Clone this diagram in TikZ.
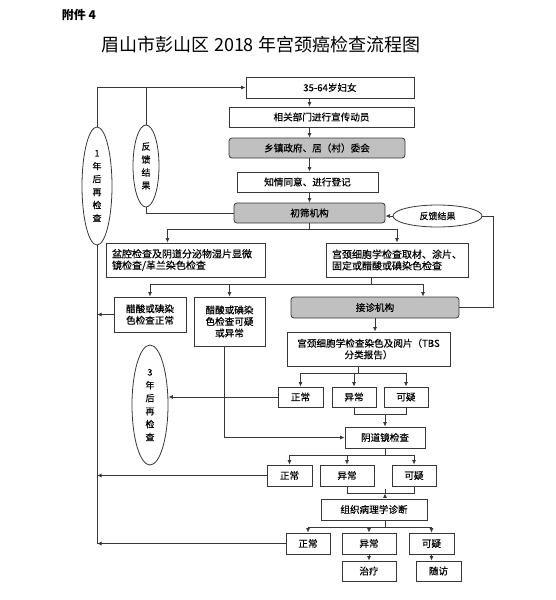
\documentclass[tikz,border=0pt]{standalone}
\usepackage{fontspec}
\setmainfont{Noto Sans CJK SC}
\newfontfamily\boxfont[FakeBold=0.4]{Noto Sans CJK SC}
\usetikzlibrary{arrows.meta,shapes.geometric}
\definecolor{boxgray}{RGB}{192,192,192}
\definecolor{linegray}{RGB}{55,55,55}
\tikzset{
  box/.style={draw=linegray, line width=0.8pt, rectangle, inner sep=1pt, align=center,
    font=\boxfont\fontsize{9.6}{11.5}\selectfont},
  grbox/.style={box, fill=boxgray, rounded corners=3pt},
  leftbox/.style={box, align=left, inner xsep=6pt, font=\boxfont\fontsize{10}{11.5}\selectfont},
  oval/.style={draw=linegray, line width=0.8pt, ellipse, inner sep=0pt, align=center,
    font=\boxfont\fontsize{9}{13}\selectfont},
  line/.style={draw=linegray, line width=0.8pt},
  arr/.style={line, -{Latex[length=4.5pt,width=4pt]}},
}
\begin{document}
\begin{tikzpicture}[x=1pt,y=-1pt]
  \useasboundingbox (0,0) rectangle (555,600);
  % Headings
  \node[font=\fontsize{12}{14}\selectfont\bfseries] (annex) at (79,15) {附件 4};
  \node[font=\fontsize{18}{20}\selectfont] (title) at (261,45) {眉山市彭山区 2018 年宫颈癌检查流程图};
  % Main chain
  \node[box, minimum width=168pt, minimum height=21pt] (women) at (330,87.5) {35-64岁妇女};
  \node[box, minimum width=185pt, minimum height=20pt] (publicity) at (321.5,117) {相关部门进行宣传动员};
  \node[grbox, minimum width=176pt, minimum height=20pt] (township) at (317,148) {乡镇政府、居（村）委会};
  \node[box, minimum width=141pt, minimum height=20pt] (consent) at (307.5,182) {知情同意、进行登记};
  \node[grbox, minimum width=151pt, minimum height=20pt] (screen) at (309.5,213) {初筛机构};
  % Feedback ovals
  \node[oval, minimum width=30pt, minimum height=118pt] (once) at (97,186) {1\\年\\后\\再\\检\\查};
  \node[oval, minimum width=26pt, minimum height=82pt] (feedL) at (146,166) {反\\馈\\结\\果};
  \node[oval, minimum width=89pt, minimum height=22pt] (feedR) at (437.5,216) {反馈结果};
  % Screening tests
  \node[leftbox, text width=147pt, minimum height=34pt] (pelvic) at (185.5,260)
    {盆腔检查及阴道分泌物湿片显微\\镜检查/革兰染色检查};
  \node[leftbox, text width=130pt, minimum height=34pt] (cyto) at (397,260)
    {宫颈细胞学检查取材、涂片、\\固定或醋酸或碘染色检查};
  \node[box, minimum width=72pt, minimum height=35pt] (acetN) at (150,314.5) {醋酸或碘染\\色检查正常};
  \node[box, minimum width=71pt, minimum height=49pt] (acetA) at (229.5,321.5) {醋酸或碘染\\色检查可疑\\或异常};
  \node[grbox, minimum width=168pt, minimum height=21pt] (clinic) at (375,307.5) {接诊机构};
  \node[box, minimum width=163pt, minimum height=34pt] (tbs) at (368.5,349) {宫颈细胞学检查染色及阅片（TBS\\分类报告）};
  % Cytology results
  \node[box, minimum width=45pt, minimum height=20pt] (norm1) at (300.5,397) {正常};
  \node[box, minimum width=44pt, minimum height=20pt] (abn1) at (354,397) {异常};
  \node[box, minimum width=44pt, minimum height=20pt] (susp1) at (406,397) {可疑};
  \node[oval, minimum width=36pt, minimum height=120pt] (thrice) at (150,405) {3\\年\\后\\再\\检\\查};
  \node[box, minimum width=80pt, minimum height=21pt] (colpo) at (385,437.5) {阴道镜检查};
  % Colposcopy results
  \node[box, minimum width=45pt, minimum height=21pt] (norm2) at (289.5,475.5) {正常};
  \node[box, minimum width=54pt, minimum height=21pt] (abn2) at (347,475.5) {异常};
  \node[box, minimum width=44pt, minimum height=21pt] (susp2) at (414,475.5) {可疑};
  \node[box, minimum width=106pt, minimum height=21pt] (patho) at (374,509.5) {组织病理学诊断};
  % Pathology results
  \node[box, minimum width=44pt, minimum height=21pt] (norm3) at (308,543.5) {正常};
  \node[box, minimum width=54pt, minimum height=21pt] (abn3) at (369,543.5) {异常};
  \node[box, minimum width=45pt, minimum height=21pt] (susp3) at (431.5,543.5) {可疑};
  \node[box, minimum width=54pt, minimum height=20pt] (treat) at (369,571) {治疗};
  \node[box, minimum width=45pt, minimum height=20pt] (follow) at (438.5,571) {随访};
  % Chain arrows
  \foreach \a/\b in {women/publicity, publicity/township, township/consent, consent/screen}
    \draw[arr] (screen.north |- \a.south) -- (screen.north |- \b.north);
  % Left feedback lines
  \draw[arr] (once.north) |- (women.west);
  \draw[line] (feedL.north) -- (feedL.north |- women.west);
  \draw[line] (screen.west) -| (feedL.south);
  % Right feedback line
  \coordinate (fbr) at (493,0);
  \draw[line] (clinic.east) -- (clinic.east -| fbr) |- (feedR.east);
  \draw[arr] (feedR.west) -- (feedR.west -| screen.east);
  % Screening fork
  \draw[line] (screen.south) -- ++(0,6) coordinate (s1);
  \coordinate (pin) at ([xshift=-18pt]pelvic.north);
  \draw[line] (s1 -| pin) -- (s1 -| cyto.north);
  \draw[arr] (s1 -| pin) -- (pin);
  \draw[arr] (s1 -| cyto.north) -- (cyto.north);
  % Cytology sampling fork
  \coordinate (cout) at ([xshift=-26pt]cyto.south);
  \coordinate (cin) at ([xshift=48pt]clinic.north);
  \draw[line] (cout) -- ++(0,7) coordinate (s2);
  \draw[line] (s2 -| acetN.north) -- (s2 -| cin);
  \foreach \n in {acetN, acetA, cin}
    \draw[arr] (s2 -| \n.north) -- (\n.north);
  \draw[arr] (acetN.west) -- (acetN.west -| once.south);
  \draw[arr] ([xshift=-5pt]acetA.south) |- (colpo.west);
  % Back line to yearly check
  \draw[line] (once.south) -- (once.south |- norm3.west);
  \draw[arr] (norm2.west) -- (norm2.west -| once.south);
  \draw[arr] (norm3.west) -- (norm3.west -| once.south);
  % TBS fork
  \draw[arr] (clinic.south) -- (clinic.south |- tbs.north);
  \draw[line] ([xshift=-10pt]tbs.south) -- ++(0,7) coordinate (s3);
  \draw[line] (s3 -| norm1.north) -- (s3 -| susp1.north);
  \foreach \n in {norm1, abn1, susp1}
    \draw[arr] (s3 -| \n.north) -- (\n.north);
  \draw[arr] (norm1.west) -- (norm1.west -| thrice.east);
  \draw[line] (abn1.south) -- ++(0,7) coordinate (m1) -| (susp1.south);
  \draw[arr] (m1 -| colpo.north) -- (colpo.north);
  % Colposcopy fork
  \draw[line] (colpo.south) -- ++(0,7) coordinate (s4);
  \draw[line] (s4 -| norm2.north) -- (s4 -| susp2.north);
  \foreach \n in {norm2, abn2, susp2}
    \draw[arr] (s4 -| \n.north) -- (\n.north);
  \draw[line] (abn2.south) -- ++(0,7) coordinate (m2) -| (susp2.south);
  \draw[arr] (m2 -| colpo.south) -- (m2 -| colpo.south |- patho.north);
  % Pathology fork
  \draw[line] (colpo.south |- patho.south) -- ++(0,7) coordinate (s5);
  \draw[line] (s5 -| norm3.north) -- (s5 -| susp3.north);
  \foreach \n in {norm3, abn3, susp3}
    \draw[arr] (s5 -| \n.north) -- (\n.north);
  \draw[arr] (abn3.south) -- (treat.north);
  \draw[arr] (susp3.south) -- (susp3.south |- follow.north);
\end{tikzpicture}
\end{document}
